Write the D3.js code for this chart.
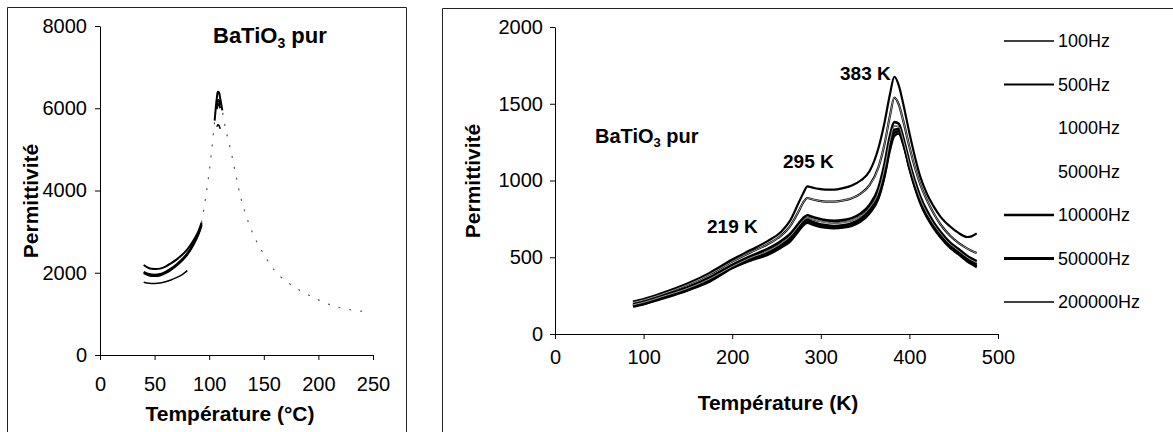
<!DOCTYPE html>
<html>
<head>
<meta charset="utf-8">
<script src="https://cdn.jsdelivr.net/npm/d3@7"></script>
<style>
  html, body { margin: 0; padding: 0; background: #fff; }
  svg { display: block; }
  text { font-family: "Liberation Sans", Arial, sans-serif; fill: #000; }
</style>
</head>
<body>
<svg id="chart" width="1173" height="432"></svg>
<script>
// ---------------- DATA ----------------
// Left chart: permittivity vs temperature (°C)
const tempC = [40,45,50,55,60,65,70,75,80,85,90,93,96,99,102,105,107,108,109,110,112,115,120,125,130,140,150,160,170,180,190,200,210,220,230,240,248];
const leftA = [2190,2110,2090,2100,2150,2230,2320,2430,2570,2760,3000,3220,3700,4250,4900,5700,6250,6400,6380,6250,5950,5500,4950,4300,3720,2950,2450,2050,1800,1620,1470,1340,1230,1150,1095,1065,1070];
const leftB = [2020,1965,1950,1965,2020,2100,2200,2320,2470,2680,2950,3180,3650,4200,4850,5600,6050,6200,6180,6080,5850,5450,4900,4260,3690,2930,2430,2040,1790,1610,1460,1330,1220,1140,1085,1055,1060];
const leftC = [1990,1935,1920,1935,1990,2070,2170,2290,2440,2650,2920,3150,3600,4150,4800,5550,5980,6100,6080,6000,5800,5420,4880,4240,3670,2910,2420,2030,1780,1600,1450,1320,1210,1130,1075,1045,1040];
const leftD = [1770,1745,1740,1750,1780,1825,1880,1950,2050,2220,2430,2620,3100,3750,4500,5250,5550,5600,5580,5500,5350,5100,4700,4150,3600,2880,2400,2010,1770,1590,1440,1310,1200,1120,1065,1035,1030];
const leftSeries = [leftA, leftB, leftC, leftD];
const leftXTicks = [0,50,100,150,200,250];
const leftYTicks = [0,2000,4000,6000,8000];

// Right chart: permittivity vs temperature (K), several frequencies
const tempK = [88,100,120,150,175,200,220,240,255,265,275,280,285,290,297,305,315,325,335,345,355,365,372,378,383,388,393,400,406,412,420,427,435,446,455,465,470,476];
const freqNames = ["100Hz","500Hz","1000Hz","5000Hz","10000Hz","50000Hz","200000Hz"];
const f100    = [212,228,265,330,400,485,545,605,665,735,855,915,962,955,946,940,940,950,968,1000,1060,1210,1380,1560,1676,1620,1500,1310,1160,1030,910,835,765,700,660,632,636,655];
const f500    = [205,222,258,322,390,472,530,585,640,700,800,855,886,878,869,862,862,870,885,915,970,1085,1240,1420,1540,1495,1390,1220,1090,980,870,790,715,640,595,558,543,527];
const f1000   = [195,212,248,305,370,450,505,555,605,650,720,755,774,764,752,742,738,742,755,785,840,950,1110,1290,1380,1370,1280,1120,1000,900,800,730,665,595,555,510,492,475];
const f5000   = [190,206,242,298,360,440,495,540,590,635,705,740,758,748,736,728,722,727,740,768,822,925,1080,1260,1355,1350,1265,1105,985,885,785,718,655,585,545,500,482,465];
const f10000  = [185,200,236,292,352,436,488,530,578,620,690,726,744,732,719,710,704,708,722,750,805,905,1055,1235,1330,1335,1255,1095,975,875,775,708,645,575,535,490,470,452];
const f50000  = [182,197,232,288,347,432,482,522,570,610,680,716,734,722,709,700,695,700,712,740,795,892,1040,1215,1310,1320,1245,1085,965,865,765,700,637,568,527,482,462,442];
const f200000 = [178,193,228,284,342,428,476,515,562,600,670,706,724,713,700,692,688,692,704,732,785,880,1025,1195,1290,1305,1235,1075,955,855,757,692,630,560,520,474,455,435];
const rightSeries = [f100, f500, f1000, f5000, f10000, f50000, f200000];
const rightXTicks = [0,100,200,300,400,500];
const rightYTicks = [0,500,1000,1500,2000];

const peakLabels = ["219 K", "295 K", "383 K"];

// ---------------- DRAW ----------------
const svg = d3.select("#chart");
const fmt = d3.format("d");

// panel frames
const frame = svg.append("g").attr("stroke", "#222").attr("stroke-width", 1).attr("fill", "none");
frame.append("path").attr("d", "M7.5,432 V7.5 H406.5 V432");
frame.append("path").attr("d", "M442.5,432 V8.5 H1173");

// ===== Left chart =====
const xL = d3.scaleLinear().domain([0, 250]).range([100, 373]);
const yL = d3.scaleLinear().domain([0, 8000]).range([355, 26]);

const gL = svg.append("g");
gL.append("g").attr("transform", "translate(0,355)")
  .call(d3.axisBottom(xL).tickValues(leftXTicks).tickFormat(fmt).tickSize(5).tickSizeOuter(0).tickPadding(17))
  .call(g => g.selectAll("text").attr("font-size", 20).attr("font-family", "Liberation Sans, Arial, sans-serif"));
gL.append("g").attr("transform", "translate(100,0)")
  .call(d3.axisLeft(yL).tickValues(leftYTicks).tickFormat(fmt).tickSize(5).tickSizeOuter(0).tickPadding(8))
  .call(g => g.selectAll("text").attr("font-size", 20).attr("font-family", "Liberation Sans, Arial, sans-serif"));
gL.selectAll(".domain, .tick line").attr("stroke", "#000");

const leftSolid = [
  [[40,93],[104,114]],
  [[40,93],[106,110]],
  [[40,93],[106,110]],
  [[40,80],[106,110]]
];
const leftWidth = [2, 2.2, 2, 1.5];
leftSeries.forEach((vals, i) => {
  const pts = tempC.map((t, j) => ({ t, p: vals[j] }));
  const faint = d3.line().x(d => xL(d.t)).y(d => yL(d.p)).curve(d3.curveCatmullRom);
  if (i === 0) {
    gL.append("path").datum(pts.filter(d => d.t >= 93))
      .attr("d", faint).attr("fill", "none").attr("stroke", "#555")
      .attr("stroke-width", 1.2).attr("stroke-dasharray", "2,9");
  }
  const inSolid = d => leftSolid[i].some(r => d.t >= r[0] && d.t <= r[1]);
  const solid = d3.line().defined(inSolid).x(d => xL(d.t)).y(d => yL(d.p)).curve(d3.curveCatmullRom);
  gL.append("path").datum(pts).attr("d", solid).attr("fill", "none")
    .attr("stroke", "#000").attr("stroke-width", leftWidth[i]);
});

// left title & axis labels
const tL = gL.append("text").attr("x", 213).attr("y", 43)
  .attr("font-family", "Liberation Serif, Times New Roman, serif").attr("font-weight", "bold").attr("font-size", 22);
tL.append("tspan").text("BaTiO");
tL.append("tspan").attr("dy", 5).attr("font-size", 14).text("3");
tL.append("tspan").attr("dy", -5).text(" pur");

gL.append("text").attr("x", 230).attr("y", 421).attr("text-anchor", "middle")
  .attr("font-weight", "bold").attr("font-size", 21).text("Température (°C)");
gL.append("text").attr("transform", "translate(38,201) rotate(-90)").attr("text-anchor", "middle")
  .attr("font-weight", "bold").attr("font-size", 21).text("Permittivité");

// ===== Right chart =====
const xR = d3.scaleLinear().domain([0, 500]).range([555, 998]);
const yR = d3.scaleLinear().domain([0, 2000]).range([334, 27]);

const gR = svg.append("g");
gR.append("g").attr("transform", "translate(0,334)")
  .call(d3.axisBottom(xR).tickValues(rightXTicks).tickFormat(fmt).tickSize(5).tickSizeOuter(0).tickPadding(11))
  .call(g => g.selectAll("text").attr("font-size", 20).attr("font-family", "Liberation Sans, Arial, sans-serif"));
gR.append("g").attr("transform", "translate(555,0)")
  .call(d3.axisLeft(yR).tickValues(rightYTicks).tickFormat(fmt).tickSize(5).tickSizeOuter(0).tickPadding(7))
  .call(g => g.selectAll("text").attr("font-size", 20).attr("font-family", "Liberation Sans, Arial, sans-serif"));
gR.selectAll(".domain, .tick line").attr("stroke", "#000");

const lineR = d3.line().x(d => xR(d.t)).y(d => yR(d.p)).curve(d3.curveMonotoneX);
const rightWidth = [2.2, 2.2, 2.6, 1.6, 2.6, 2.6, 2.2];
for (let i = rightSeries.length - 1; i >= 0; i--) {
  const pts = tempK.map((t, j) => ({ t, p: rightSeries[i][j] }));
  gR.append("path").datum(pts).attr("d", lineR).attr("fill", "none")
    .attr("stroke", "#000").attr("stroke-width", rightWidth[i]).attr("stroke-linejoin", "round");
}
// light core on a couple of series (scanned double-line look)
[1, 3].forEach(i => {
  const pts = tempK.map((t, j) => ({ t, p: rightSeries[i][j] }));
  gR.append("path").datum(pts).attr("d", lineR).attr("fill", "none")
    .attr("stroke", "#fff").attr("stroke-width", 0.6);
});

// annotations
const tR = gR.append("text").attr("x", 595).attr("y", 143)
  .attr("font-weight", "bold").attr("font-size", 20);
tR.append("tspan").text("BaTiO");
tR.append("tspan").attr("dy", 4).attr("font-size", 13).text("3");
tR.append("tspan").attr("dy", -4).text(" pur");

const labelPos = [{ x: 707, y: 233 }, { x: 783, y: 168 }, { x: 840, y: 80 }];
peakLabels.forEach((d, i) => {
  gR.append("text").attr("x", labelPos[i].x).attr("y", labelPos[i].y)
    .attr("font-weight", "bold").attr("font-size", 19).text(d);
});

gR.append("text").attr("x", 778).attr("y", 410).attr("text-anchor", "middle")
  .attr("font-weight", "bold").attr("font-size", 21).text("Température (K)");
gR.append("text").attr("transform", "translate(480,181) rotate(-90)").attr("text-anchor", "middle")
  .attr("font-weight", "bold").attr("font-size", 21).text("Permittivité");

// legend
const swatchStroke = ["#000", "#000", "none", "none", "#000", "#000", "#000"];
const swatchWidth = [1.6, 2, 0, 0, 2.6, 3, 1.6];
const legend = gR.append("g");
freqNames.forEach((name, i) => {
  const y = 41 + i * 43.5;
  legend.append("line").attr("x1", 1004).attr("x2", 1054).attr("y1", y).attr("y2", y)
    .attr("stroke", swatchStroke[i]).attr("stroke-width", swatchWidth[i]);
  legend.append("text").attr("x", 1058).attr("y", y).attr("dy", "0.35em")
    .attr("font-size", 18).text(name);
});
</script>
</body>
</html>
